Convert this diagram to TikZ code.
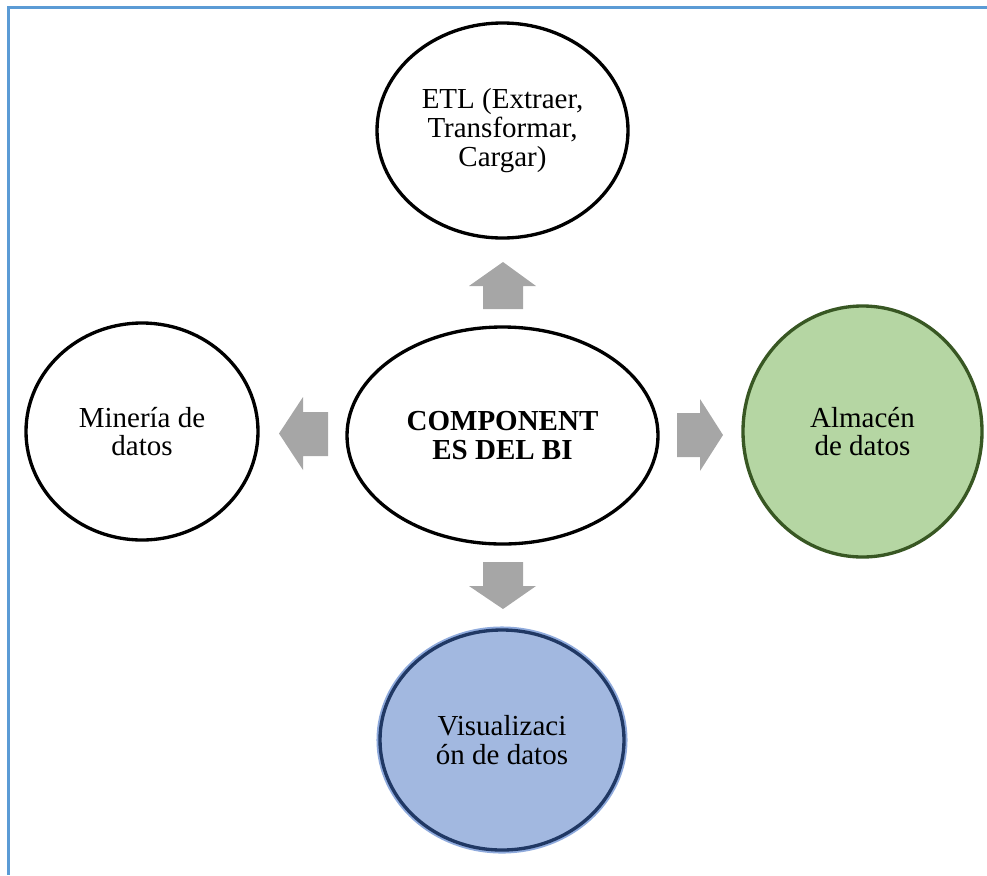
\documentclass[tikz,border=0pt]{standalone}
\usepackage{fontspec}
\setmainfont{Liberation Serif}
\usetikzlibrary{shapes.geometric}
\definecolor{frameblue}{HTML}{5B9BD5}
\definecolor{arrowgray}{HTML}{A6A6A6}
\definecolor{greenfill}{HTML}{B5D6A3}
\definecolor{greenline}{HTML}{385723}
\definecolor{bluefill}{HTML}{A2B8E0}
\definecolor{blueline}{HTML}{203864}
\definecolor{bluehalo}{HTML}{8FAADC}
\tikzset{
  comp/.style={ellipse, draw=black, line width=2.5pt, fill=white, inner sep=0pt,
    align=center, font=\fontsize{21.75}{21.5}\selectfont},
  blockarrow/.style={fill=arrowgray, draw=none},
  framel/.style={draw=frameblue, line width=2pt}
}
\begin{document}
\begin{tikzpicture}[x=0.75pt,y=-0.75pt]
\useasboundingbox (0,0) rectangle (987,875);
% frame
\coordinate (fTL) at (8.5,7.5);
\coordinate (fTR) at (987,7.5);
\coordinate (fBL) at (8.5,875);
\draw[framel] (fTR) -- (fTL) -- (fBL);
% nodes
\node[comp, minimum width=251*0.75pt, minimum height=215*0.75pt] (etl) at (502.5,130.5)
  {ETL (Extraer,\\Transformar,\\Cargar)};
\node[comp, minimum width=311*0.75pt, minimum height=217*0.75pt] (center) at (502.5,435.5)
  {\bfseries COMPONENT\\\bfseries ES DEL BI};
\node[comp, minimum width=232*0.75pt, minimum height=217*0.75pt] (mineria) at (142,431.5)
  {Minería de\\datos};
\node[comp, draw=greenline, fill=greenfill, minimum width=239*0.75pt, minimum height=251*0.75pt] (almacen) at (862.5,431.5)
  {Almacén\\de datos};
\node[ellipse, draw=bluehalo, line width=3.8pt, minimum width=246*0.75pt, minimum height=222*0.75pt] (halo) at (502,740) {};
\node[comp, draw=blueline, fill=bluefill, minimum width=244*0.75pt, minimum height=220*0.75pt] (visual) at (502,740)
  {Visualizaci\\ón de datos};
% block arrows
\fill[blockarrow] (483,309) -- (483,286) -- (469,286) -- (503,262) -- (536,286) -- (523,286) -- (523,309) -- cycle;
\fill[blockarrow] (483,562) -- (483,586) -- (469,586) -- (503,609) -- (536,586) -- (523,586) -- (523,562) -- cycle;
\fill[blockarrow] (328,412) -- (303,412) -- (303,397) -- (279,433.5) -- (303,470) -- (303,456) -- (328,456) -- cycle;
\fill[blockarrow] (677,413) -- (700,413) -- (700,399) -- (723,435) -- (700,471) -- (700,457) -- (677,457) -- cycle;
\end{tikzpicture}
\end{document}
